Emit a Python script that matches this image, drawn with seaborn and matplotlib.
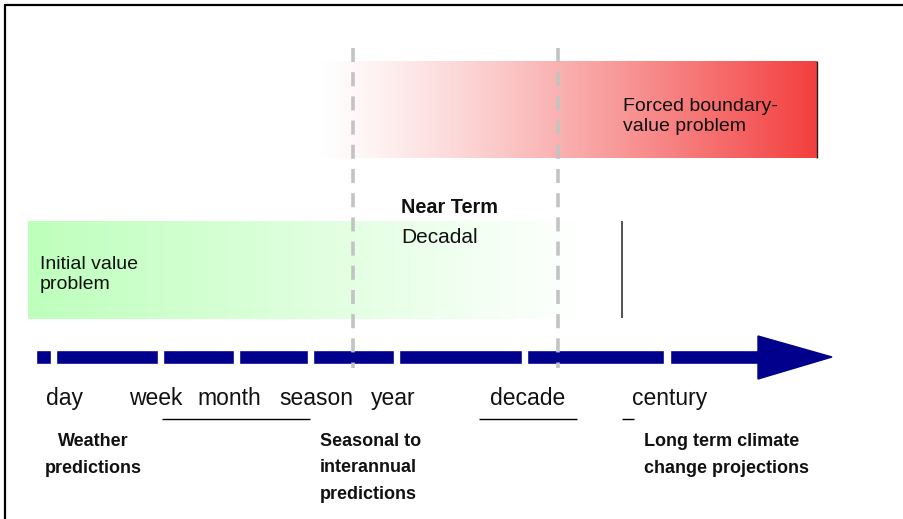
import numpy as np
import matplotlib.pyplot as plt
from matplotlib import font_manager
from matplotlib.patches import Polygon
import seaborn as sns

# time scales along the arrow (label, x centre in px)
scale_labels = ["day", "week", "month", "season", "year", "decade", "century"]
scale_x = [65, 156, 229, 316, 393, 528, 670]

# arrow body segments (start, end) in px
seg_start = [36, 56, 163, 239, 313, 399, 527, 670]
seg_end = [51, 158, 234, 308, 394, 522, 664, 760]
arrow_tip = 832

# prediction categories under the axis (baseline of last line)
pred_labels = ["Weather\npredictions",
               "Seasonal to\ninterannual\npredictions",
               "Long term climate\nchange projections"]
pred_x = [93, 320, 644]
pred_y = [473, 499, 473]
pred_align = ["center", "left", "left"]

# underline segments below the scale labels
under_start = [162, 479, 622]
under_end = [310, 577, 634]

# boundaries of the near-term (decadal) window
window_x = [353, 558]

sns.set_theme(style="white")
names = {f.name for f in font_manager.fontManager.ttflist}
base = "Liberation Sans" if "Liberation Sans" in names else "DejaVu Sans"
plt.rcParams['font.family'] = [base, 'DejaVu Sans']

fig = plt.figure(figsize=(9.04, 5.19), dpi=100)
ax = fig.add_axes([0, 0, 1, 1])

# red gradient box: forced boundary-value problem
n = 400
t = np.linspace(0, 1, n) ** 1.25
red = np.array([243, 62, 62]) / 255
img = (1 - t)[:, None] * np.ones(3) + t[:, None] * red
ax.imshow(img[None, :, :], extent=(318, 817, 158, 61), aspect='auto', zorder=1)
ax.vlines(817, 61, 158, color="#222222", lw=1, zorder=2)

# green gradient box: initial value problem
t = np.linspace(0, 1, n)
green = np.array([190, 255, 188]) / 255
img = (1 - t)[:, None] * green + t[:, None] * np.ones(3)
ax.imshow(img[None, :, :], extent=(28, 585, 319, 221), aspect='auto', zorder=1)

ax.vlines(622, 221, 318, color="#333333", lw=1.2, zorder=2)

# arrow
navy = "#00008c"
ax.broken_barh([(s, e - s) for s, e in zip(seg_start, seg_end)], (350, 14),
               facecolors=navy, zorder=3)
ax.add_patch(Polygon([(758, 336), (arrow_tip, 357), (758, 379)], closed=True,
                     facecolor=navy, edgecolor=navy, zorder=3))

# dashed window lines
for x in window_x:
    ax.plot([x, x], [48, 368], color="#c3c3c3", lw=2.6,
            linestyle=(0, (3.9, 2.8)), solid_capstyle='butt', zorder=5)

# scale labels
for lab, x in zip(scale_labels, scale_x):
    ax.text(x, 405, lab, ha="center", va="baseline", fontsize=16.5,
            color="#111111")

ax.hlines([419] * len(under_start), under_start, under_end, color="black", lw=1)

for lab, x, y, al in zip(pred_labels, pred_x, pred_y, pred_align):
    ax.text(x, y, lab, ha=al, va="baseline", fontsize=13, fontweight="bold",
            multialignment=al, linespacing=1.75, color="#111111")

# box texts
ax.text(40, 289, "Initial value\nproblem", fontsize=14, va="baseline",
        linespacing=1.23, color="#111111")
ax.text(623, 131, "Forced boundary-\nvalue problem", fontsize=14, va="baseline",
        linespacing=1.23, color="#111111")
ax.text(401, 213, "Near Term", fontsize=14.3, fontweight="bold", va="baseline",
        color="#111111")
ax.text(401, 243, "Decadal", fontsize=15, va="baseline", color="#111111")

# frame
ax.plot([5, 904], [5, 5], color="black", lw=1.6)
ax.plot([5, 5], [5, 519], color="black", lw=1.6)

ax.set_xlim(0, 904)
ax.set_ylim(519, 0)
ax.axis("off")

fig.savefig("out.png", dpi=100)
